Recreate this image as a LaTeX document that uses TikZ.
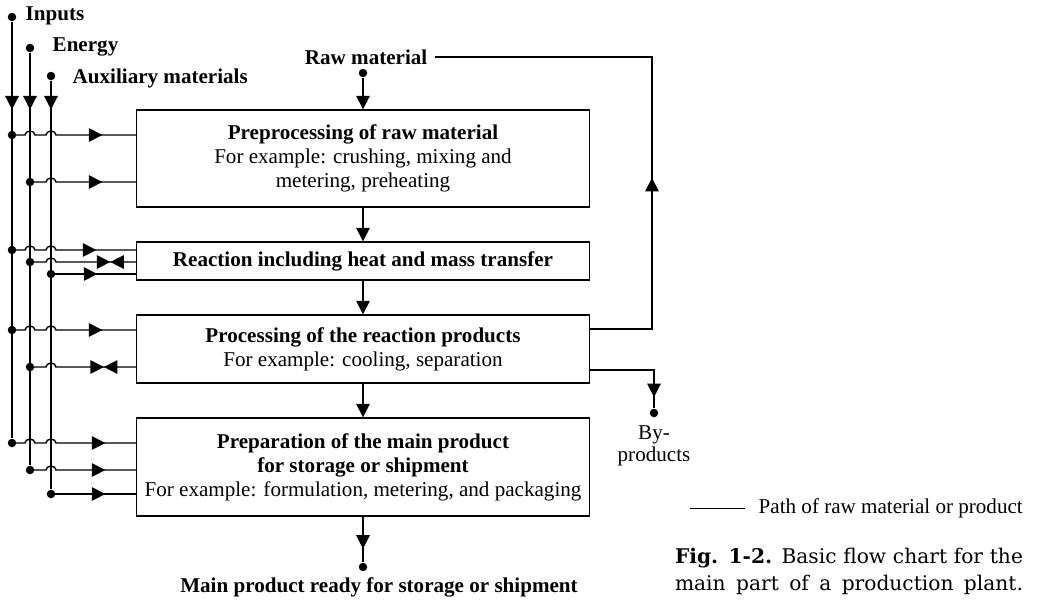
\documentclass[tikz,border=0pt]{standalone}
\usepackage{fontspec}
\setmainfont{Liberation Serif}
\newfontfamily\capfont{DejaVu Serif}
\usetikzlibrary{arrows.meta,decorations.markings}
\newcommand{\hopover}{arc[start angle=180,end angle=0,x radius=0.1cm,y radius=0.08cm]}

\begin{document}
\begin{tikzpicture}[line width=0.8pt,x=0.02cm,y=0.02cm,
    font=\fontsize{12}{13.6}\selectfont,
    tri/.tip={Triangle[length=0.27cm,width=0.27cm]},
    box/.style={draw,minimum width=9.06cm,align=center,inner sep=0pt},
    lbl/.style={inner sep=0pt},
    dot/.style={circle,fill,inner sep=0pt,minimum size=0.17cm},
    tipat/.style={postaction={decorate},decoration={markings,mark=at position #1 with {\arrow{tri}}}},
    valveat/.style={postaction={decorate},decoration={markings,mark=at position #1 with {\arrow{tri}\arrowreversed{tri}}}}]
  \useasboundingbox (0,0) rectangle (1037,-600);

  \node[box,minimum height=1.94cm] (pre) at (363,-158.5)
    {\textbf{Preprocessing of raw material}\\For example: crushing, mixing and\\metering, preheating};
  \node[box,minimum height=0.76cm] (react) at (363,-261)
    {\textbf{Reaction including heat and mass transfer}};
  \node[box,minimum height=1.36cm] (proc) at (363,-349)
    {\textbf{Processing of the reaction products}\\For example: cooling, separation};
  \node[box,minimum height=1.96cm] (prep) at (363,-467)
    {\textbf{Preparation of the main product}\\\textbf{for storage or shipment}\\For example: formulation, metering, and packaging};

  \node[dot] (dIn) at (12,-17) {};
  \node[dot] (dEn) at (30,-48) {};
  \node[dot] (dAux) at (51,-76) {};
  \node[lbl,anchor=west] (inputs) at (25,-16) {\textbf{Inputs}};
  \node[lbl,anchor=west] (energy) at (52,-47) {\textbf{Energy}};
  \node[lbl,anchor=west] (aux) at (72,-78) {\textbf{Auxiliary materials}};

  \foreach \y/\b/\d in {135/pre/0.67,250/react/0.79,330/proc/0.67,443/prep/0.61}
    \draw[tipat=-\d cm] (12,-\y) node[dot] (i\y) {} -- (25,-\y) \hopover
      -- (46,-\y) \hopover -- (\b.west |- i\y);
  \foreach \y/\b/\d in {182/pre/0.67,470/prep/0.61}
    \draw[tipat=-\d cm] (30,-\y) node[dot] (e\y) {} -- (46,-\y) \hopover -- (\b.west |- e\y);
  \foreach \y/\b/\d in {262/react/0.51,367/proc/0.64}
    \draw[valveat=-\d cm] (30,-\y) node[dot] (e\y) {} -- (46,-\y) \hopover -- (\b.west |- e\y);
  \foreach \y/\b/\d in {274/react/0.77,494/prep/0.61}
    \draw[tipat=-\d cm] (51,-\y) node[dot] (a\y) {} -- (\b.west |- a\y);

  \draw[tipat=1.75cm] (dIn) -- (i443);
  \draw[tipat=1.13cm] (dEn) -- (e470);
  \draw[tipat=0.57cm] (dAux) -- (a494);

  \node[lbl,inner xsep=0.14cm,anchor=east] (raw) at (435,-57) {\textbf{Raw material}};
  \node[dot] (dRaw) at (363,-73) {};
  \node[dot] (dMain) at (363,-567) {};
  \node[lbl] (main) at (379,-587) {\textbf{Main product ready for storage or shipment}};
  \draw[-tri] (dRaw) -- (pre);
  \draw[-tri] (pre) -- (react);
  \draw[-tri] (react) -- (proc);
  \draw[-tri] (proc) -- (prep);
  \draw[tipat=0.64cm] (prep) -- (dMain);

  \draw[tipat=4.26cm] (proc.east |- 0,-329) -| (652,-57) -- (raw.east);
  \node[dot] (dBy) at (654,-413) {};
  \node[lbl,align=center,font=\fontsize{12}{12.5}\selectfont] (byprod) at (654,-446) {By-\\products};
  \draw[tipat=1.82cm] (proc.east |- 0,-370) -| (dBy);

  \coordinate (lgA) at (690,-508);
  \node[lbl,inner xsep=0.26cm,anchor=west] (legend) at (745,-508) {Path of raw material or product};
  \draw[line width=0.5pt] (lgA) -- (legend.west);

  \node[lbl,align=left,font=\capfont\fontsize{11.5}{15.3}\selectfont] (caption) at (849,-571.5)
    {\makebox[6.96cm][s]{\textbf{Fig. 1-2.} Basic flow chart for the}\\\makebox[6.96cm][s]{main part of a production plant.}};
\end{tikzpicture}
\end{document}
